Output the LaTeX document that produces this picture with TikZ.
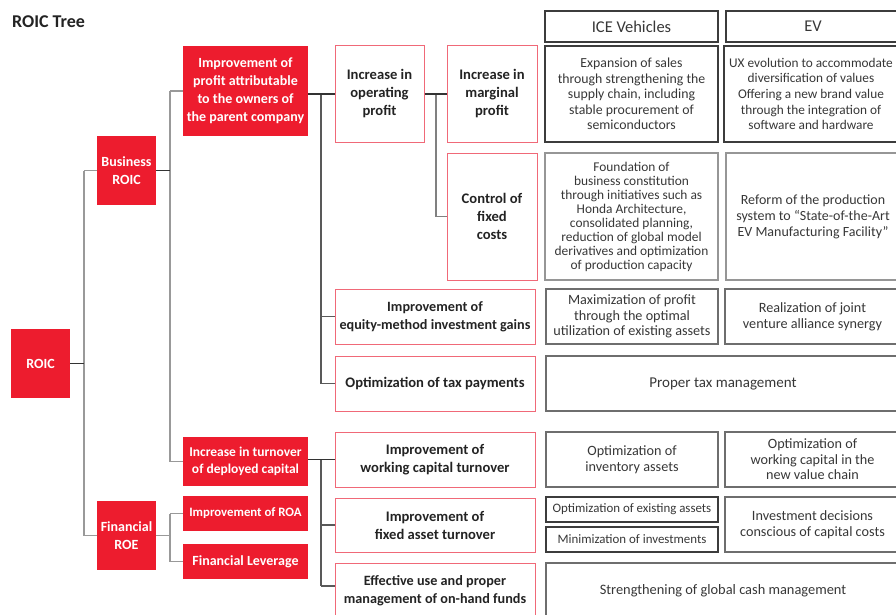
\documentclass[tikz,border=0pt]{standalone}
\usepackage{fontspec}
\setmainfont{Carlito}
\definecolor{honred}{RGB}{237,28,46}
\definecolor{pinkline}{RGB}{240,105,120}
\definecolor{darkbd}{RGB}{60,60,60}
\definecolor{midbd}{RGB}{110,110,110}
\definecolor{lightbd}{RGB}{150,150,150}
\definecolor{txt}{RGB}{35,35,35}
\definecolor{gtxt}{RGB}{55,55,55}
\tikzset{
  wh/.style 2 args={minimum width=#1pt, minimum height=#2pt},
  redbox/.style={fill=honred, text=white, font=\bfseries\fontsize{14}{18}\selectfont, align=center, inner sep=0pt},
  pinkbox/.style={draw=pinkline, line width=1pt, text=txt, font=\bfseries\fontsize{14.6}{18}\selectfont, align=center, inner sep=0pt},
  pinklong/.style={pinkbox, font=\bfseries\fontsize{14.2}{18}\selectfont},
  graybox/.style={draw=midbd, line width=1.2pt, text=gtxt, font=\fontsize{14.2}{15.6}\selectfont, align=center, inner sep=0pt},
  grayup/.style={graybox, font=\fontsize{13.8}{15.6}\selectfont},
  hdrbox/.style={graybox, draw=darkbd, font=\fontsize{16.5}{20}\selectfont},
  stub/.style={draw=black!80, line width=1.2pt},
  trunk/.style={draw=black!40, line width=1.5pt},
  trunkb/.style={draw=black!65, line width=1.2pt},
  trunkc/.style={draw=black!50, line width=1.2pt},
  trunkd/.style={draw=black!65, line width=2pt},
}
\begin{document}
\begin{tikzpicture}[x=1pt, y=-1pt]
\useasboundingbox (0,0) rectangle (896,615);
\node[anchor=base west, font=\bfseries\fontsize{18}{20}\selectfont, text=txt, inner sep=0pt] (title) at (12,28) {ROIC Tree};
% red boxes
\node[redbox, wh={59}{69}] (roic) at (40.5,363.5) {ROIC};
\node[redbox, wh={59}{69}] (biz) at (126.5,170.5) {Business\\ROIC};
\node[redbox, wh={59}{69}] (fin) at (126.5,535.5) {Financial\\ROE};
\node[redbox, wh={125}{90}] (imp) at (245.5,91) {Improvement of\\profit attributable\\to the owners of\\the parent company};
\node[redbox, wh={125}{49}, font=\bfseries\fontsize{13.5}{17}\selectfont] (turn) at (245.5,461.5) {Increase in turnover\\of deployed capital};
\node[redbox, wh={125}{35}, font=\bfseries\fontsize{12.8}{15}\selectfont] (roa) at (245.5,513.5) {Improvement of ROA};
\node[redbox, wh={125}{35}] (lev) at (245.5,561.5) {Financial Leverage};
% pink boxes
\node[pinkbox, wh={89}{96}] (op) at (379.5,94) {Increase in\\operating\\profit};
\node[pinkbox, wh={90}{96}] (marg) at (492,94) {Increase in\\marginal\\profit};
\node[pinkbox, wh={90}{127}] (fixc) at (492,216.5) {Control of\\fixed\\costs};
\node[pinklong, wh={200}{55}] (eq) at (435,316.5) {Improvement of\\equity-method investment gains};
\node[pinkbox, wh={200}{55}] (tax) at (435,383.5) {Optimization of tax payments};
\node[pinkbox, wh={200}{55}] (wc) at (435,459.5) {Improvement of\\working capital turnover};
\node[pinkbox, wh={200}{54}] (fa) at (435,525) {Improvement of\\fixed asset turnover};
\node[pinklong, wh={200}{56}] (oh) at (435,591) {Effective use and proper\\management of on-hand funds};
% gray boxes
\node[hdrbox, wh={173}{31}] (ice) at (631.5,26.5) {ICE Vehicles};
\node[hdrbox, wh={174}{31}] (ev) at (813,26.5) {EV};
\node[grayup, draw=darkbd, wh={173}{96}] (ice1) at (631.5,94) {Expansion of sales\\through strengthening the\\supply chain, including\\stable procurement of\\semiconductors};
\node[grayup, draw=darkbd, wh={174}{96}, font=\fontsize{13.3}{15.6}\selectfont] (ev1) at (811,94) {UX evolution to accommodate\\diversification of values\\Offering a new brand value\\through the integration of\\software and hardware};
\node[graybox, draw=lightbd, wh={173}{127}, font=\fontsize{13.4}{14}\selectfont] (ice2) at (631.5,216.5) {Foundation of\\business constitution\\through initiatives such as\\Honda Architecture,\\consolidated planning,\\reduction of global model\\derivatives and optimization\\of production capacity};
\node[grayup, draw=lightbd, wh={174}{127}, font=\fontsize{14}{16}\selectfont] (ev2) at (813,216.5) {Reform of the production\\system to “State-of-the-Art\\EV Manufacturing Facility”};
\node[graybox, wh={172}{55}] (ice3) at (632,316.5) {Maximization of profit\\through the optimal\\utilization of existing assets};
\node[graybox, wh={175}{55}] (ev3) at (812.5,316.5) {Realization of joint\\venture alliance synergy};
\node[graybox, wh={354}{55}, font=\fontsize{15}{18}\selectfont] (tax2) at (723,383.5) {Proper tax management};
\node[graybox, wh={172}{55}] (ice4) at (632,459.5) {Optimization of\\inventory assets};
\node[graybox, wh={175}{55}] (ev4) at (812.5,459.5) {Optimization of\\working capital in the\\new value chain};
\node[graybox, draw=darkbd, wh={172}{25}, font=\fontsize{12.9}{15}\selectfont] (ice5a) at (632,509.5) {Optimization of existing assets};
\node[graybox, draw=darkbd, wh={172}{25}, font=\fontsize{12.9}{15}\selectfont] (ice5b) at (632,539.5) {Minimization of investments};
\node[graybox, wh={175}{55}] (ev5) at (812.5,524.5) {Investment decisions\\conscious of capital costs};
\node[graybox, wh={354}{56}, font=\fontsize{14.4}{18}\selectfont] (cash) at (723,591) {Strengthening of global cash management};
% connector columns
\coordinate (x1) at (84,0);
\coordinate (x2) at (170,0);
\coordinate (x3) at (321,0);
\coordinate (x4) at (436,0);
\coordinate (ohin) at ([yshift=5pt]oh.west);
% ROIC
\draw[trunk] (biz.west -| x1) -- (fin.west -| x1);
\draw[trunk] (biz.west -| x1) -- (biz.west);
\draw[trunk] (fin.west -| x1) -- (fin.west);
\draw[stub] (roic.east) -- (roic.east -| x1);
% Business ROIC
\draw[trunk] (imp.west -| x2) -- (turn.west -| x2);
\draw[trunk] (imp.west -| x2) -- (imp.west);
\draw[trunk] (turn.west -| x2) -- (turn.west);
\draw[stub] (biz.east) -- (biz.east -| x2);
% Financial ROE
\draw[trunk] (roa.west -| x2) -- (lev.west -| x2);
\draw[trunk] (roa.west -| x2) -- (roa.west);
\draw[trunk] (lev.west -| x2) -- (lev.west);
\draw[trunk] (fin.east) -- (fin.east -| x2);
% profit attributable
\draw[trunkb] (op.west -| x3) -- (tax.west -| x3);
\draw[trunkb] (eq.west -| x3) -- (eq.west);
\draw[trunkb] (tax.west -| x3) -- (tax.west);
\draw[stub] (imp.east |- op.west) -- (op.west);
% operating profit
\draw[trunkc] (marg.west -| x4) -- (fixc.west -| x4);
\draw[trunkc] (fixc.west -| x4) -- (fixc.west);
\draw[stub] (op.east) -- (marg.west);
% turnover
\draw[trunkd] (wc.west -| x3) -- (ohin -| x3);
\draw[trunkd] (fa.west -| x3) -- (fa.west);
\draw[trunkd] (ohin -| x3) -- (ohin);
\draw[stub] (turn.east |- wc.west) -- (wc.west);
\end{tikzpicture}
\end{document}
